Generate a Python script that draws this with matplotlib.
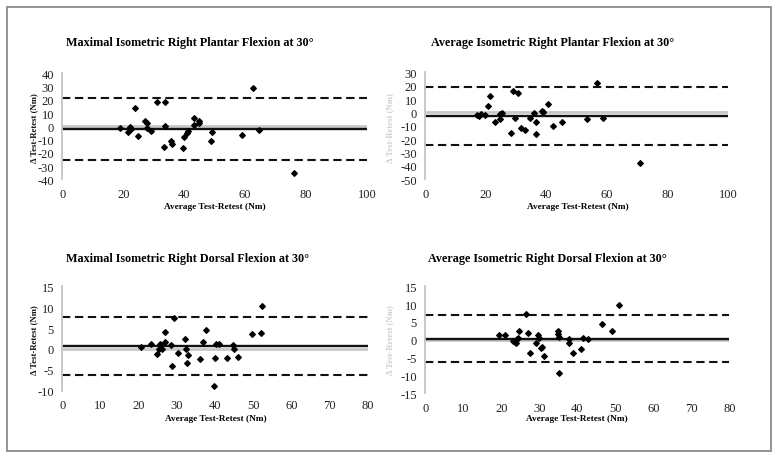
import matplotlib
matplotlib.use("Agg")
import matplotlib.pyplot as plt
from matplotlib.patches import Rectangle

plt.rcParams['font.family'] = ['Liberation Serif', 'DejaVu Serif']
plt.rcParams['axes.unicode_minus'] = False

# ---------------- data ----------------
titles = [
    "Maximal Isometric Right Plantar Flexion at 30°",
    "Average Isometric Right Plantar Flexion at 30°",
    "Maximal Isometric Right Dorsal Flexion at 30°",
    "Average Isometric Right Dorsal Flexion at 30°",
]
xlabel = "Average Test-Retest (Nm)"
ylabel = "Δ Test-Retest (Nm)"

# Panel 1: Maximal plantar flexion
p1_avg = [19, 21.4, 22.1, 22.4, 23.7, 24.9, 27.1, 27.7, 27.9, 29.2, 31, 33.6, 33.6, 33.5,
          35.7, 35.9, 39.6, 40, 40.8, 41.1, 43.2, 43.1, 44.7, 44.7, 49.1, 48.7,
          59.1, 62.6, 64.6, 76.1]
p1_diff = [-1.5, -4.5, -0.8, -2, 14, -7.1, 4.2, 2.7, -1, -3.8, 18.6, 18.1, 0.2, -15.6,
           -11.3, -13.6, -16.4, -7.8, -5, -3.5, 6.3, 0.7, 4, 2.3, -4.5, -11.1,
           -6.6, 28.7, -2.8, -35]
p1_bias, p1_upper, p1_lower = -2.0, 21.4, -25.2

# Panel 2: Average plantar flexion
p2_avg = [17.1, 17.8, 18.3, 19.7, 20.8, 21.4, 23.1, 24.7, 24.8, 25.4, 28.2, 29, 29.7,
          30.6, 31.5, 32.9, 34.7, 35.8, 36.6, 36.6, 38.4, 38.7, 38.9, 40.5, 42.1,
          45.1, 53.3, 56.6, 58.5, 70.9]
p2_diff = [-1.6, -2.8, -1.4, -1.9, 4.9, 12.1, -7.1, -1.1, -4.6, -0.4, -15.1, 15.8, -3.9,
           14.8, -11.4, -13.1, -4.4, -0.1, -6.8, -16.3, 1.3, 0.1, 0.6, 6.1, -10.1,
           -6.8, -4.6, 22.3, -3.9, -37.5]
p2_bias, p2_upper, p2_lower = -2.5, 19.2, -24.2

# Panel 3: Maximal dorsal flexion
p3_avg = [20.6, 23.3, 24.8, 25.2, 25.7, 26.2, 26.9, 27, 28.6, 28.7, 29.3, 30.4, 32.1,
          32.3, 32.7, 32.9, 36.1, 36.9, 37.6, 39.9, 39.8, 40.3, 41, 43.1, 44.8, 44.9,
          46, 49.8, 52, 52.4]
p3_diff = [0.5, 1.25, -1.1, -0.1, 1.25, -0.1, 1.6, 4, 0.9, -4, 7.3, -1, 2.3,
           0, -3.4, -1.5, -2.4, 1.6, 4.5, -2.1, -8.8, 1.25, 1.25, -2.1, 0.9, 0,
           -2, 3.6, 3.9, 10.3]
p3_bias, p3_upper, p3_lower = 0.65, 7.55, -6.25

# Panel 4: Average dorsal flexion
p4_avg = [19.5, 21.1, 23.1, 23.5, 23.8, 24, 24.3, 24.6, 26.6, 27, 27.5, 29, 29.7, 29.9,
          30.4, 30.6, 31.3, 35, 34.9, 35.2, 35.3, 37.9, 37.9, 38.9, 41.1, 41.4, 42.9,
          46.4, 49, 51]
p4_diff = [1.25, 1.25, -0.2, -0.7, -1, 0.2, 0.6, 2.5, 7.2, 1.9, -3.6, -0.9, 1.4, 0.5,
           -2.4, -1.9, -4.5, 2.4, 1.6, 0.7, -9.2, 0.2, -1, -3.8, -2.5, 0.6, 0.2,
           4.3, 2.4, 9.7]
p4_bias, p4_upper, p4_lower = 0.3, 7.05, -6.35

xticks_plantar = [0, 20, 40, 60, 80, 100]
xticks_dorsal = [0, 10, 20, 30, 40, 50, 60, 70, 80]
yticks_p1 = [-40, -30, -20, -10, 0, 10, 20, 30, 40]
yticks_p2 = [-50, -40, -30, -20, -10, 0, 10, 20, 30]
yticks_p3 = [-10, -5, 0, 5, 10, 15]
yticks_p4 = [-15, -10, -5, 0, 5, 10, 15]

panels = [
    (p1_avg, p1_diff, p1_bias, p1_upper, p1_lower, xticks_plantar, yticks_p1),
    (p2_avg, p2_diff, p2_bias, p2_upper, p2_lower, xticks_plantar, yticks_p2),
    (p3_avg, p3_diff, p3_bias, p3_upper, p3_lower, xticks_dorsal, yticks_p3),
    (p4_avg, p4_diff, p4_bias, p4_upper, p4_lower, xticks_dorsal, yticks_p4),
]

# ---------------- layout (pixels) ----------------
W, H = 777, 460
fig = plt.figure(figsize=(W / 100, H / 100), dpi=100)

# (left, top, right, bottom) in pixels
boxes = [(62.3, 74.3, 367.0, 180.3),
         (425.3, 73.3, 728.3, 180.3),
         (62.3, 287.3, 367.7, 391.7),
         (425.3, 287.3, 729.3, 394.3)]
title_pos = [(190, 43), (553, 43), (188, 259), (547, 259)]
xlabel_pos = [(215, 207), (578, 207), (216, 419), (577, 419)]
ylabel_pos = [(34, 128), (390, 128), (34, 340), (390, 340)]
ylabel_colors = ['#111111', '#d0d0d0', '#111111', '#d0d0d0']

serif = ['Liberation Serif', 'DejaVu Serif']

# outer frame
fig.patches.append(Rectangle((7 / W, 1 - 452 / H), (771 - 7) / W, (452 - 8) / H,
                             transform=fig.transFigure, fill=False,
                             edgecolor='#8a8a8a', linewidth=1.3))

for i, (avg, diff, bias, upper, lower, xt, yt) in enumerate(panels):
    l, t, r, b = boxes[i]
    ax = fig.add_axes([l / W, 1 - b / H, (r - l) / W, (b - t) / H])
    xmin, xmax = xt[0], xt[-1]
    ax.set_xlim(xmin, xmax)
    ax.set_ylim(yt[0], yt[-1])
    ax.set_xticks(xt)
    ax.set_yticks(yt)
    for s in ['top', 'right', 'bottom']:
        ax.spines[s].set_visible(False)
    ax.spines['left'].set_color('#c4c4c4')
    ax.spines['left'].set_linewidth(1.3)
    ax.tick_params(length=0, labelsize=9, colors='#222222')
    ax.tick_params(axis='y', pad=6)
    ax.tick_params(axis='x', pad=6)
    for lab in ax.get_xticklabels() + ax.get_yticklabels():
        lab.set_fontfamily(serif)

    # zero axis line
    ax.hlines(0, xmin, xmax, color='#c8c8c8', linewidth=2.0, zorder=1)
    # bias line
    ax.hlines(bias, xmin, xmax, color='#111111', linewidth=1.7, zorder=2)
    # limits of agreement
    ax.hlines([upper, lower], xmin, xmax, color='#111111', linewidth=1.5,
              linestyles=(0, (4, 2.2)), zorder=2)
    ax.scatter(avg, diff, marker='D', s=8, color='black', zorder=3, clip_on=False)

    tx, ty = title_pos[i]
    fig.text(tx / W, 1 - ty / H, titles[i], ha='center', va='center',
             fontsize=8.7, fontweight='bold', family=serif)
    lx, ly = xlabel_pos[i]
    fig.text(lx / W, 1 - ly / H, xlabel, ha='center', va='center',
             fontsize=6.7, fontweight='bold', family=serif)
    yx, yy = ylabel_pos[i]
    fig.text(yx / W, 1 - yy / H, ylabel, ha='center', va='center', rotation=90,
             fontsize=6.3, fontweight='bold', family=serif, color=ylabel_colors[i])

fig.savefig("out.png", dpi=100)
